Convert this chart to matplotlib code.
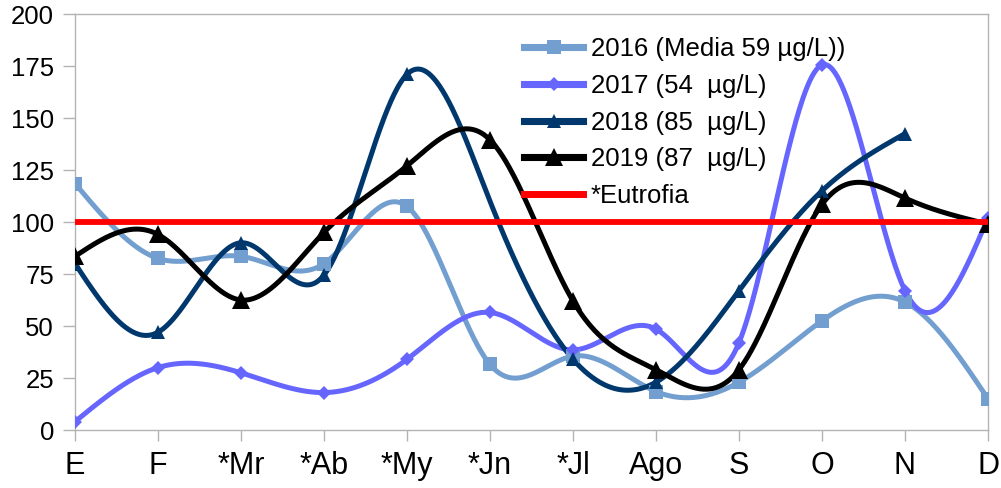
import numpy as np
import matplotlib
matplotlib.use("Agg")
import matplotlib.pyplot as plt
from matplotlib.lines import Line2D

plt.rcParams['font.family'] = ['Liberation Sans', 'DejaVu Sans']

months = ["E", "F", "*Mr", "*Ab", "*My", "*Jn", "*Jl", "Ago", "S", "O", "N", "D"]
s2016 = [118.5, 82.5, 83.5, 80, 107.5, 31.5, 35.5, 18.5, 23, 52.5, 61.5, 15]
s2017 = [4, 30, 27.5, 18, 34, 56.5, 38.5, 48.5, 42, 175.5, 67, 102]
s2018 = [80, 47, 90, 74.5, 171, 110, 34, 23, 67, 115, 142.5, np.nan]
s2019 = [83.5, 94, 62.5, 95, 127, 139.5, 62, 29, 29, 108.5, 111.5, 99]
eutrofia = [100] * 12
# months whose 2018 marker is not shown in the original
hidden_2018 = ["*Jn"]

labels = ["2016 (Media 59 µg/L))", "2017 (54  µg/L)", "2018 (85  µg/L)",
          "2019 (87  µg/L)", "*Eutrofia"]


def natural_spline(x, y, xs):
    x = np.asarray(x, float)
    y = np.asarray(y, float)
    n = len(x)
    h = np.diff(x)
    A = np.zeros((n, n))
    b = np.zeros(n)
    A[0, 0] = 1
    A[-1, -1] = 1
    for i in range(1, n - 1):
        A[i, i - 1] = h[i - 1]
        A[i, i] = 2 * (h[i - 1] + h[i])
        A[i, i + 1] = h[i]
        b[i] = 6 * ((y[i + 1] - y[i]) / h[i] - (y[i] - y[i - 1]) / h[i - 1])
    M = np.linalg.solve(A, b)
    out = np.empty_like(xs)
    for k, xv in enumerate(xs):
        i = min(max(np.searchsorted(x, xv) - 1, 0), n - 2)
        t0 = x[i + 1] - xv
        t1 = xv - x[i]
        out[k] = (M[i] * t0 ** 3 / (6 * h[i]) + M[i + 1] * t1 ** 3 / (6 * h[i])
                  + (y[i] / h[i] - M[i] * h[i] / 6) * t0
                  + (y[i + 1] / h[i] - M[i + 1] * h[i] / 6) * t1)
    return out


fig = plt.figure(figsize=(10.01, 4.88), dpi=100)
ax = fig.add_axes([75 / 1001, 1 - 430 / 488, (988 - 75) / 1001, (430 - 14) / 488])

xpos = np.arange(len(months))
series = [
    (s2016, "#729fcf", "s", 10, 3.6, []),
    (s2017, "#6666ff", "D", 7, 3.6, []),
    (s2018, "#00386e", "^", 9.5, 3.6, hidden_2018),
    (s2019, "#000000", "^", 13, 3.6, []),
]
handles = []
for (vals, col, mk, ms, lw, hidden), lab in zip(series, labels):
    v = np.asarray(vals, float)
    ok = ~np.isnan(v)
    xx = xpos[ok]
    yy = v[ok]
    xs = np.linspace(xx[0], xx[-1], 800)
    ys = natural_spline(xx, yy, xs)
    ax.plot(xs, ys, color=col, lw=lw, solid_capstyle='butt', zorder=2)
    show = ok & np.array([m not in hidden for m in months])
    ax.plot(xpos[show], v[show], linestyle='none', marker=mk, ms=ms, color=col,
            markeredgewidth=0, zorder=3)
    handles.append(Line2D([], [], color=col, lw=lw + 1.5, marker=mk, ms=ms,
                          markeredgewidth=0))

ax.plot(xpos, eutrofia, color="#ff0000", lw=4.2, zorder=4, solid_capstyle='butt')
handles.append(Line2D([], [], color="#ff0000", lw=5))

ax.set_xlim(0, 11)
ax.set_ylim(0, 200)
ax.set_yticks(range(0, 201, 25))
ax.set_xticks(xpos)
ax.set_xticklabels(months)
for sp in ax.spines.values():
    sp.set_color("#b3b3b3")
    sp.set_linewidth(1.0)
ax.tick_params(axis='y', direction='out', length=9, width=1, color="#b3b3b3",
               labelsize=18.5, pad=6)
ax.tick_params(axis='x', direction='out', length=8, width=1, color="#b3b3b3",
               labelsize=22, pad=7)

leg = ax.legend(handles, labels, loc='upper left', bbox_to_anchor=(0.492, 0.945),
                frameon=False, fontsize=18.5, handlelength=2.3, handletextpad=0.3,
                labelspacing=0.5, borderaxespad=0, borderpad=0)

fig.savefig("out.png", dpi=100)
